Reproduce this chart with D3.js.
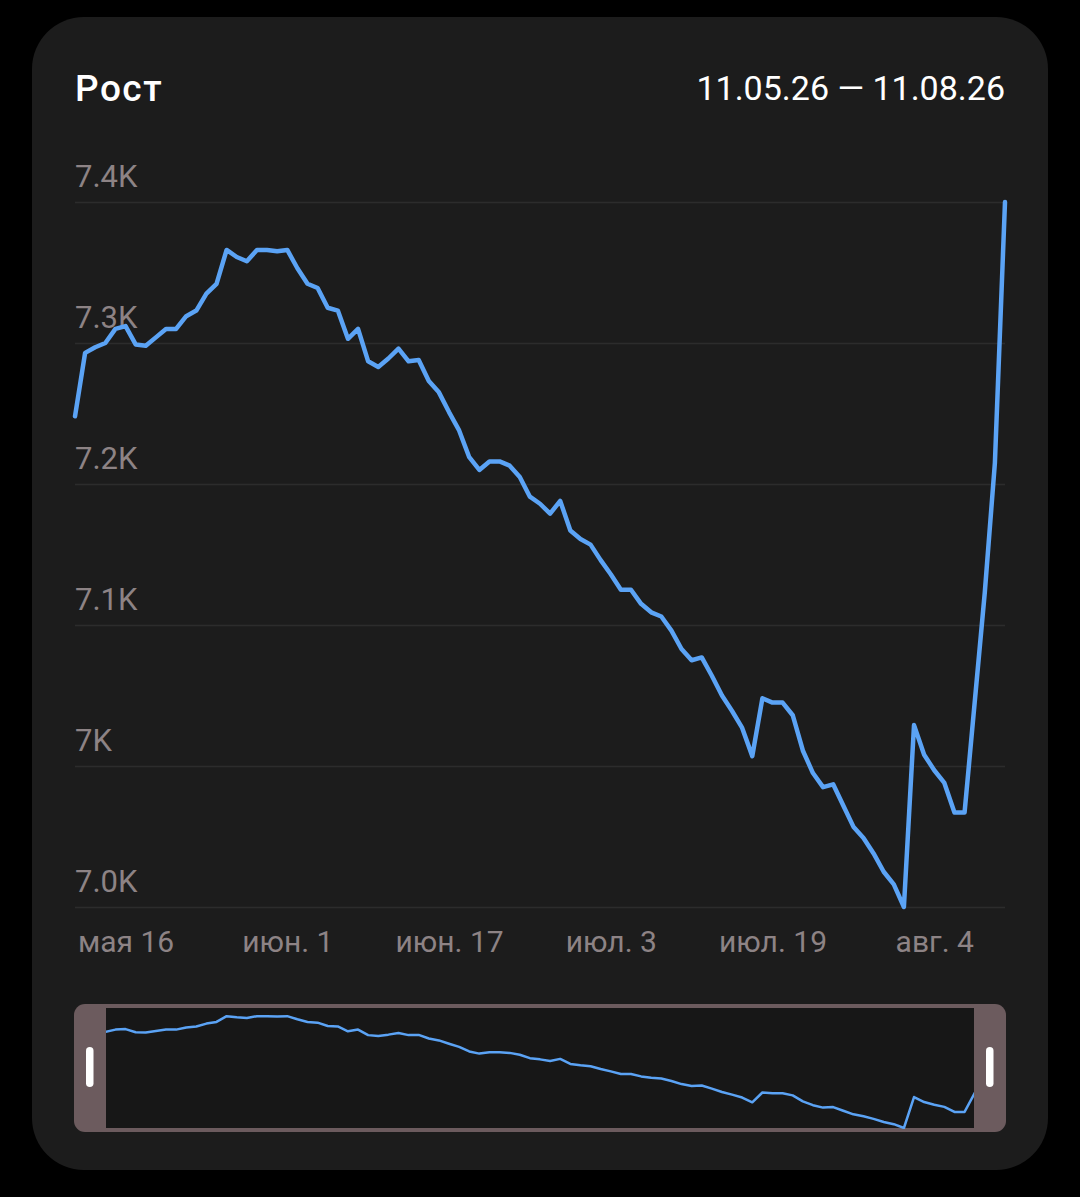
<!DOCTYPE html>
<html>
<head>
<meta charset="utf-8">
<script src="https://cdn.jsdelivr.net/npm/d3@7"></script>
<style>
	html, body { margin: 0; padding: 0; background: #000; }
	svg { display: block; }
	text { font-family: Roboto, "Noto Sans", sans-serif; }
</style>
</head>
<body>
<svg id="chart" width="1080" height="1197"></svg>
<script>
// data: daily values, 11.05.26 .. 11.08.26
const startDate = Date.UTC(2026, 4, 11)
const values = [
	7248, 7293, 7297, 7300, 7310, 7312, 7299, 7298, 7304, 7310,
	7310, 7319, 7323, 7335, 7342, 7366, 7361, 7358, 7366, 7366,
	7365, 7366, 7353, 7342, 7339, 7325, 7323, 7303, 7310, 7287,
	7283, 7289, 7296, 7287, 7288, 7273, 7265, 7251, 7238, 7219,
	7210, 7216, 7216, 7213, 7205, 7191, 7186, 7179, 7188, 7167,
	7161, 7157, 7146, 7136, 7125, 7125, 7115, 7109, 7106, 7096,
	7083, 7075, 7077, 7064, 7050, 7039, 7027, 7007, 7048, 7045,
	7045, 7036, 7011, 6995, 6985, 6987, 6972, 6957, 6949, 6938,
	6925, 6916, 6900, 7029, 7008, 6997, 6988, 6967, 6967, 7045,
	7123, 7215, 7400
]
const yTicks = [6900, 7000, 7100, 7200, 7300, 7400]
const yTickLabels = ["7.0K", "7K", "7.1K", "7.2K", "7.3K", "7.4K"]
const xTicks = [Date.UTC(2026, 4, 16), Date.UTC(2026, 5, 1), Date.UTC(2026, 5, 17),
	Date.UTC(2026, 6, 3), Date.UTC(2026, 6, 19), Date.UTC(2026, 7, 4)]
const xTickLabels = ["мая 16", "июн. 1", "июн. 17", "июл. 3", "июл. 19", "авг. 4"]
const title = "Рост"
const period = "11.05.26 — 11.08.26"

// style
const lineColor = '#5ba3f5'
const labelColor = '#8d8385'
const gridColor = '#2c2c2c'
const cardColor = '#1c1c1c'
const handleColor = '#6c5b5e'

const DAY = 24 * 3600 * 1000
const data = values.map((v, i) => ({ date: new Date(startDate + i * DAY), value: v }))

const svg = d3.select('#chart')

// card
svg.append('rect')
	.attr('x', 32).attr('y', 17)
	.attr('width', 1016).attr('height', 1153)
	.attr('rx', 52)
	.attr('fill', cardColor)

svg.append('text')
	.attr('x', 75).attr('y', 101)
	.attr('fill', '#fff')
	.attr('font-size', 37)
	.attr('font-weight', 500)
	.attr('letter-spacing', 1.5)
	.text(title)

svg.append('text')
	.attr('x', 1005).attr('y', 100)
	.attr('text-anchor', 'end')
	.attr('fill', '#fff')
	.attr('font-size', 34)
	.text(period)

// main plot
const x = d3.scaleUtc()
	.domain(d3.extent(data, d => d.date))
	.range([75, 1005])
const y = d3.scaleLinear()
	.domain(d3.extent(values))
	.range([907, 202])

const yAxis = svg.append('g')
	.attr('transform', 'translate(75,0)')
	.call(d3.axisRight(y).tickValues(yTicks).tickSize(930)
		.tickFormat((d, i) => yTickLabels[i]))
yAxis.select('.domain').remove()
yAxis.selectAll('.tick line').attr('stroke', gridColor).attr('stroke-width', 1.5)
yAxis.selectAll('.tick text')
	.attr('x', 0).attr('dy', -16)
	.attr('text-anchor', 'start')
	.attr('fill', labelColor)
	.attr('font-size', 31)

const xAxis = svg.append('g')
	.attr('transform', 'translate(0,907)')
	.call(d3.axisBottom(x).tickValues(xTicks.map(t => new Date(t))).tickSize(0)
		.tickFormat((d, i) => xTickLabels[i]))
xAxis.select('.domain').remove()
xAxis.selectAll('.tick text')
	.attr('dy', 0).attr('y', 45)
	.attr('fill', labelColor)
	.attr('font-size', 30)

const line = d3.line()
	.x(d => x(d.date))
	.y(d => y(d.value))

svg.append('path')
	.datum(data)
	.attr('d', line)
	.attr('fill', 'none')
	.attr('stroke', lineColor)
	.attr('stroke-width', 4.5)
	.attr('stroke-linejoin', 'round')
	.attr('stroke-linecap', 'round')

// navigator (minimap)
const navTop = 1004, navBottom = 1132
svg.append('rect')
	.attr('x', 74).attr('y', navTop)
	.attr('width', 932).attr('height', navBottom - navTop)
	.attr('rx', 11)
	.attr('fill', handleColor)
svg.append('rect')
	.attr('x', 106).attr('y', navTop + 4)
	.attr('width', 868).attr('height', navBottom - navTop - 8)
	.attr('fill', '#171717')

svg.append('clipPath').attr('id', 'navclip')
	.append('rect')
	.attr('x', 106).attr('y', navTop + 3)
	.attr('width', 868).attr('height', navBottom - navTop - 6)

const yNav = d3.scaleLinear()
	.domain(d3.extent(values))
	.range([1128, 1008])
const navLine = d3.line()
	.x(d => x(d.date))
	.y(d => yNav(d.value))

svg.append('path')
	.datum(data)
	.attr('d', navLine)
	.attr('clip-path', 'url(#navclip)')
	.attr('fill', 'none')
	.attr('stroke', lineColor)
	.attr('stroke-width', 2.5)
	.attr('stroke-linejoin', 'round')

// handle grips
for (let gx of [86, 986]) {
	svg.append('rect')
		.attr('x', gx).attr('y', 1047)
		.attr('width', 7.5).attr('height', 40)
		.attr('rx', 3.75)
		.attr('fill', '#fff')
}
</script>
</body>
</html>
